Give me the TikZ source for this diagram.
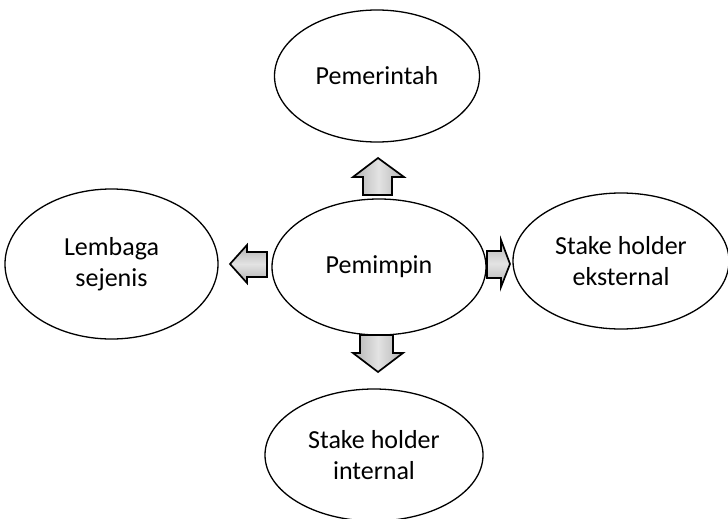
\documentclass[tikz,border=0pt]{standalone}
\usepackage{fontspec}
\setmainfont{Carlito}
\usetikzlibrary{shapes.geometric}
\begin{document}
\begin{tikzpicture}[x=1pt,y=-1pt,
  bubble/.style={ellipse,draw=black,line width=1.3pt,fill=white,inner sep=0pt,
    align=center,font=\fontsize{26}{31}\selectfont},
  blockarr/.style={draw=black,line width=1.7pt,line join=miter},
  vshade/.style={left color=gray!60,right color=gray!60,middle color=gray!22},
  hshade/.style={top color=gray!60,bottom color=gray!60,middle color=gray!22}]
\useasboundingbox (0,0) rectangle (728,519);
\node[bubble,minimum width=205pt,minimum height=132pt] (pemerintah) at (377,76) {Pemerintah};
\node[bubble,minimum width=213pt,minimum height=150pt] (lembaga) at (111.5,264) {Lembaga\\sejenis};
\node[bubble,minimum width=214pt,minimum height=136pt] (pemimpin) at (379,267) {Pemimpin};
\node[bubble,minimum width=216pt,minimum height=136pt] (eksternal) at (621,261) {Stake holder\\eksternal};
\node[bubble,minimum width=218pt,minimum height=132pt] (internal) at (374,455) {Stake holder\\internal};
% block arrows
\path[blockarr,vshade] (363,195) -- (363,177) -- (353,177) -- (378,158) -- (404,177) -- (392,177) -- (392,195) -- cycle;
\path[blockarr,hshade] (267,252) -- (247,252) -- (247,245) -- (230,264) -- (247,283) -- (247,277) -- (267,277) -- cycle;
\path[blockarr,hshade] (487,251) -- (501,251) -- (501,240) -- (510,264) -- (501,287) -- (501,278) -- (487,278) -- cycle;
\path[blockarr,vshade] (360,335) -- (393,335) -- (393,353) -- (403,353) -- (378,372) -- (353,353) -- (360,353) -- cycle;
\end{tikzpicture}
\end{document}
